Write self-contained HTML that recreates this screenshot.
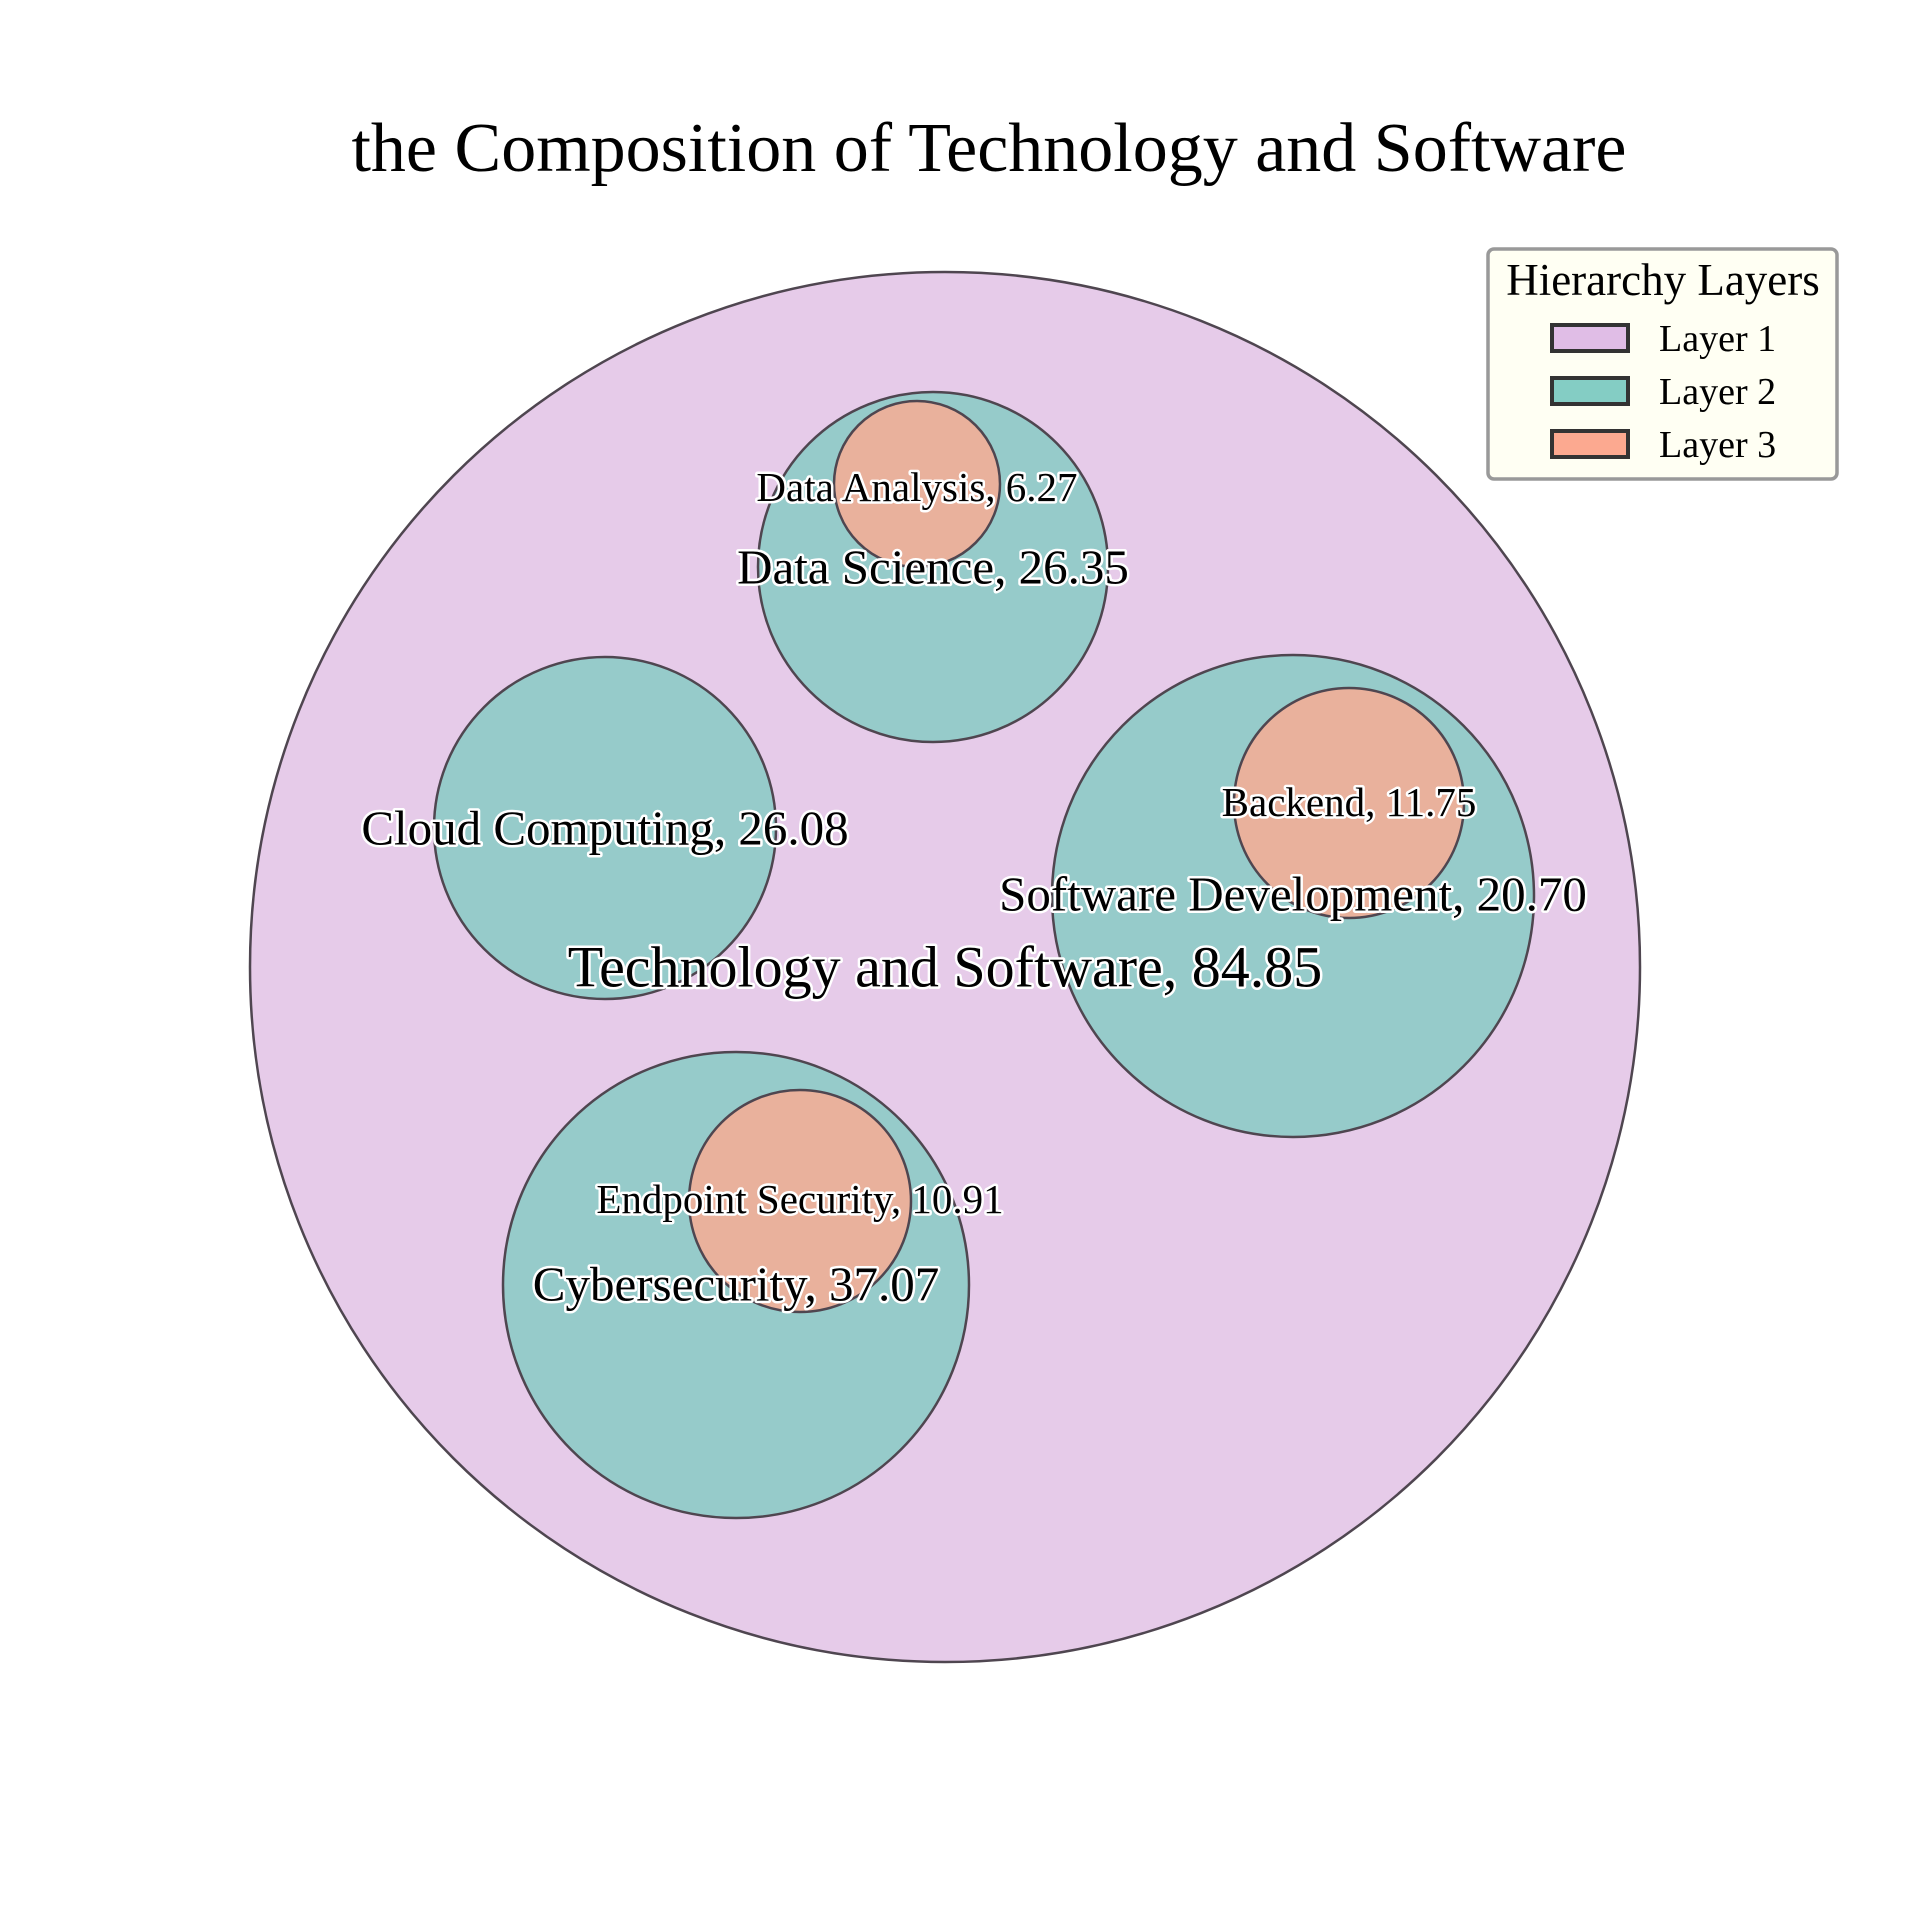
<!DOCTYPE html>
<html><head><meta charset="utf-8"><style>html,body{margin:0;padding:0;background:#fff}</style></head>
<body>
<svg width="1920" height="1920" viewBox="0 0 1920 1920" xmlns="http://www.w3.org/2000/svg" font-family="Liberation Serif, serif">
<rect width="1920" height="1920" fill="#fff"/>
<text x="989" y="171" font-size="70" text-anchor="middle" fill="#000">the Composition of Technology and Software</text>
<g stroke="#4f4650" stroke-width="2.5">
<circle cx="945" cy="967" r="695" fill="#e6cbe9"/>
<circle cx="933" cy="567" r="175" fill="#96cbca"/>
<circle cx="605" cy="828" r="171" fill="#96cbca"/>
<circle cx="1293" cy="896" r="241" fill="#96cbca"/>
<circle cx="736" cy="1285" r="233" fill="#96cbca"/>
<circle cx="917" cy="484" r="83" fill="#e9b19c"/>
<circle cx="1349" cy="803" r="115" fill="#e9b19c"/>
<circle cx="800" cy="1201" r="111" fill="#e9b19c"/>
</g>
<g text-anchor="middle" dominant-baseline="central" fill="#000" stroke="#fff" stroke-width="5" paint-order="stroke" stroke-linejoin="round">
<text x="945" y="967" font-size="58">Technology and Software, 84.85</text>
<text x="933" y="567" font-size="49">Data Science, 26.35</text>
<text x="917" y="487" font-size="41">Data Analysis, 6.27</text>
<text x="605" y="828" font-size="49">Cloud Computing, 26.08</text>
<text x="1293" y="894" font-size="49">Software Development, 20.70</text>
<text x="1349" y="802" font-size="41">Backend, 11.75</text>
<text x="736" y="1284" font-size="49">Cybersecurity, 37.07</text>
<text x="800" y="1199" font-size="41">Endpoint Security, 10.91</text>
</g>
<rect x="1488" y="249" width="349" height="230" rx="6" fill="#fffff3" stroke="#999" stroke-width="3.5"/>
<text x="1663" y="295" font-size="45" text-anchor="middle" fill="#000">Hierarchy Layers</text>
<g stroke="#333" stroke-width="4">
<rect x="1552" y="325" width="76" height="26" fill="#e0bde6"/>
<rect x="1552" y="378" width="76" height="26" fill="#84cdc4"/>
<rect x="1552" y="431" width="76" height="26" fill="#fca990"/>
</g>
<g font-size="38" fill="#000">
<text x="1659" y="351">Layer 1</text>
<text x="1659" y="404">Layer 2</text>
<text x="1659" y="457">Layer 3</text>
</g>
</svg>
</body></html>
